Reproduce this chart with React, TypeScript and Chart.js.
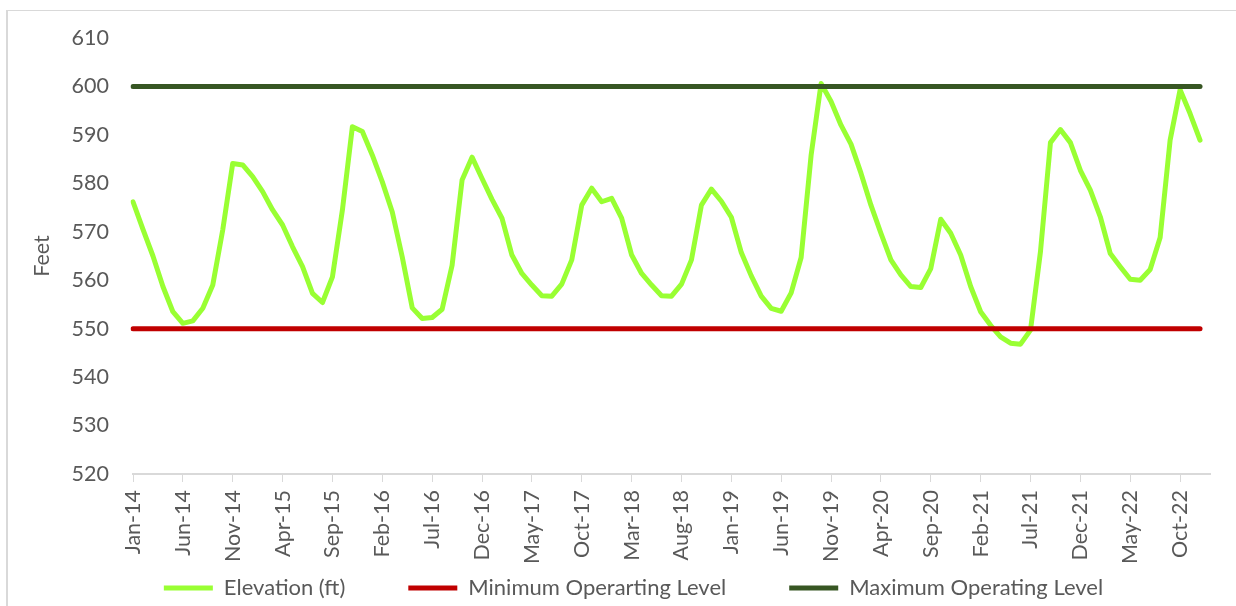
import React, { useEffect, useRef } from 'react';
import { Chart, registerables } from 'chart.js';

Chart.register(...registerables);

// ---- data ----
const MONTHS = ['Jan', 'Feb', 'Mar', 'Apr', 'May', 'Jun', 'Jul', 'Aug', 'Sep', 'Oct', 'Nov', 'Dec'];
const YEARS = ['14', '15', '16', '17', '18', '19', '20', '21', '22', '23'];
const CATEGORY_COUNT = 109; // Jan-14 .. Jan-23 (last category empty)
const LABEL_STEP = 5;

const ELEVATION = [
  576.2, 570.5, 565.0, 558.7, 553.5, 551.1, 551.6, 554.2, 559.0, 570.4, 584.1, 583.8,
  581.4, 578.3, 574.5, 571.4, 566.9, 562.8, 557.3, 555.4, 560.7, 574.5, 591.7, 590.7,
  585.8, 580.3, 574.1, 564.8, 554.3, 552.1, 552.3, 554.0, 563.1, 580.7, 585.4, 581.0,
  576.7, 572.8, 565.2, 561.4, 559.0, 556.8, 556.7, 559.2, 564.2, 575.5, 579.0, 576.2,
  576.9, 572.8, 565.2, 561.4, 559.0, 556.8, 556.7, 559.2, 564.2, 575.5, 578.8, 576.3,
  573.0, 565.7, 560.9, 556.7, 554.2, 553.6, 557.4, 564.7, 585.8, 600.6, 596.9, 592.0,
  588.1, 582.1, 575.5, 569.7, 564.2, 561.1, 558.7, 558.5, 562.4, 572.6, 569.7, 565.2,
  558.7, 553.5, 550.7, 548.3, 547.0, 546.8, 549.7, 565.9, 588.4, 591.1, 588.4, 582.7,
  578.6, 573.1, 565.5, 562.8, 560.2, 560.0, 562.2, 568.8, 588.9, 599.3, 594.4, 588.9,
];
const MIN_LEVEL = 550;
const MAX_LEVEL = 600;

const Y_MIN = 520;
const Y_MAX = 610;
const Y_STEP = 10;

const SERIES_NAMES = ['Elevation (ft)', 'Minimum Operarting Level', 'Maximum Operating Level'];
const Y_TITLE = 'Feet';

const CATEGORIES = YEARS.flatMap((y) => MONTHS.map((m) => `${m}-${y}`)).slice(0, CATEGORY_COUNT);
const MIN_SERIES = ELEVATION.map(() => MIN_LEVEL);
const MAX_SERIES = ELEVATION.map(() => MAX_LEVEL);

// ---- style ----
const TEXT = '#595959';
const FONT = { family: 'Lato', size: 21.5 };
const LEGEND_FONT = { family: 'Lato', size: 22 };
const LEGEND_PAD = 63;
const LEGEND_CENTER_Y = 588;
const W = 1236;
const H = 606;

// moves the bottom legend up so it sits where the reference has it
const legendShift = {
  id: 'legendShift',
  afterUpdate(chart: any) {
    const lg = chart.legend;
    if (!lg) return;
    const h = lg.height;
    lg.top = LEGEND_CENTER_Y - LEGEND_PAD - LEGEND_FONT.size / 2;
    lg.bottom = lg.top + h;
    if (lg.adjustHitBoxes) lg.adjustHitBoxes();
  },
};

export default function App() {
  const ref = useRef<HTMLCanvasElement | null>(null);

  useEffect(() => {
    if (!ref.current) return;
    const lineBase = {
      borderWidth: 5,
      pointRadius: 0,
      pointHoverRadius: 0,
      tension: 0,
      borderCapStyle: 'round' as const,
      borderJoinStyle: 'round' as const,
      fill: false,
    };
    const chart = new Chart(ref.current, {
      type: 'line',
      data: {
        labels: CATEGORIES,
        datasets: [
          { ...lineBase, label: SERIES_NAMES[0], data: ELEVATION, borderColor: '#99FF33', backgroundColor: '#99FF33', order: 3 },
          { ...lineBase, label: SERIES_NAMES[1], data: MIN_SERIES, borderColor: '#C00000', backgroundColor: '#C00000', order: 2 },
          { ...lineBase, label: SERIES_NAMES[2], data: MAX_SERIES, borderColor: '#375623', backgroundColor: '#375623', order: 1 },
        ],
      },
      plugins: [legendShift],
      options: {
        animation: false,
        responsive: false,
        layout: { padding: { left: 57, right: W - 1210, top: 38, bottom: -53 } },
        plugins: {
          tooltip: { enabled: false },
          legend: {
            position: 'bottom',
            align: 'center',
            labels: {
              usePointStyle: true,
              pointStyle: 'line',
              pointStyleWidth: 49,
              padding: LEGEND_PAD,
              color: TEXT,
              font: LEGEND_FONT,
              sort: (a: any, b: any) => a.datasetIndex - b.datasetIndex,
            },
          },
        },
        scales: {
          x: {
            type: 'category',
            offset: false,
            grid: { display: true, drawOnChartArea: false, drawTicks: true, tickLength: 8, color: '#d9d9d9', lineWidth: 1 },
            border: { display: true, color: '#d9d9d9', width: 2 },
            ticks: { autoSkip: false, minRotation: 90, maxRotation: 90, padding: 8, color: TEXT, font: FONT },
            afterBuildTicks: (s: any) => {
              s.ticks = s.ticks.filter((t: any) => t.value % LABEL_STEP === 0);
            },
            afterFit: (s: any) => {
              s.height = 90;
            },
          },
          y: {
            min: Y_MIN,
            max: Y_MAX,
            ticks: { stepSize: Y_STEP, padding: 24, color: TEXT, font: FONT },
            grid: { display: false, drawTicks: false },
            border: { display: false },
            title: { display: true, text: Y_TITLE, color: TEXT, font: FONT, padding: { top: -28, bottom: 0 } },
            afterFit: (s: any) => {
              s.width = 76;
            },
          },
        },
      },
    } as any);
    return () => chart.destroy();
  }, []);

  return (
    <div style={{ position: 'fixed', left: 0, top: 0, width: W, height: H, overflow: 'hidden', background: '#fff' }}>
      <div
        style={{
          position: 'absolute',
          left: 6,
          top: 10,
          width: 2000,
          height: 2000,
          borderLeft: '2px solid #d9d9d9',
          borderTop: '1px solid #d9d9d9',
        }}
      />
      <canvas ref={ref} width={W} height={H} style={{ position: 'absolute', left: 0, top: 0, width: W, height: H }} />
    </div>
  );
}
